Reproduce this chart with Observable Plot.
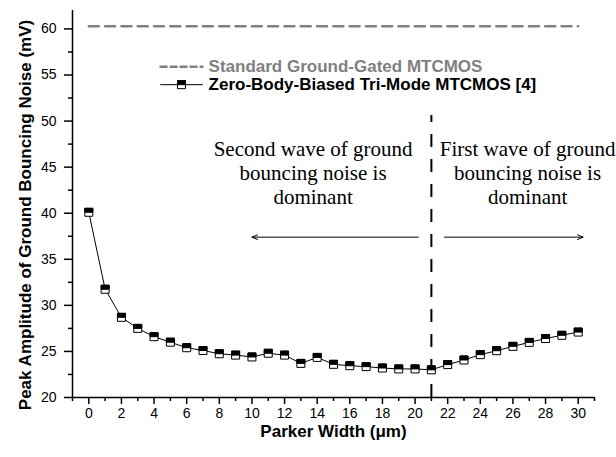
<!DOCTYPE html>
<html><head><meta charset="utf-8">
<script src="https://cdn.jsdelivr.net/npm/d3@7"></script>
<script src="https://cdn.jsdelivr.net/npm/@observablehq/plot@0.6"></script>
<style>
body{margin:0;background:#fff;}
#chart{width:616px;height:457px;}
</style></head><body><div id="chart"></div>
<script>
// ---- data ----
const parkerWidth = [0,1,2,3,4,5,6,7,8,9,10,11,12,13,14,15,16,17,18,19,20,21,22,23,24,25,26,27,28,29,30];
const noiseTriMode = [40.1,31.75,28.7,27.5,26.6,26.0,25.4,25.1,24.75,24.6,24.4,24.8,24.6,23.7,24.35,23.6,23.45,23.35,23.2,23.1,23.1,23.0,23.57,24.07,24.65,25.08,25.55,25.98,26.4,26.75,27.1];
const standardWidth = [0, 30];
const noiseStandard = [60.3, 60.3];
const boundaryWidth = [21];
const boundaryTop = 50.6;

const xMajorTicks = [0,2,4,6,8,10,12,14,16,18,20,22,24,26,28,30];
const xMinorTicks = [-1,1,3,5,7,9,11,13,15,17,19,21,23,25,27,29,31];
const yMajorTicks = [20,25,30,35,40,45,50,55,60];
const yMinorTicks = [22.5,27.5,32.5,37.5,42.5,47.5,52.5,57.5];

const seriesNames = ["Standard Ground-Gated MTCMOS", "Zero-Body-Biased Tri-Mode MTCMOS [4]"];
const legendX = [4.4, 6.97];     // sample line start/end (x units)
const legendMarkX = 5.68;
const legendTextX = 7.34;
const legendY = [55.9, 53.95];

const xTitle = "Parker Width (\u03bcm)";
const yTitle = "Peak Amplitude of Ground Bouncing Noise (mV)";

const noteTexts = ["Second wave of ground\nbouncing noise is\ndominant", "First wave of ground\nbouncing noise is\ndominant"];
const noteX = [13.75, 26.9];
const noteY = [44.4, 44.4];
const arrowX1 = [20.2, 21.8];
const arrowX2 = [10.0, 30.3];
const arrowY = [37.4, 37.4];

// ---- build ----
const tri = parkerWidth.map((x, i) => ({x, y: noiseTriMode[i]}));
const std = standardWidth.map((x, i) => ({x, y: noiseStandard[i]}));
const notes = noteTexts.map((t, i) => ({t, x: noteX[i], y: noteY[i]}));
const arrows = arrowX1.map((x1, i) => ({x1, x2: arrowX2[i], y: arrowY[i]}));
const halfTop = {draw(ctx, size) { const w = Math.sqrt(size); ctx.rect(-w/2, -w/2, w, w/2); }};
const sans = "'Liberation Sans', Arial, sans-serif";
const legStd = legendX.map(x => ({x, y: legendY[0]}));
const legTri = legendX.map(x => ({x, y: legendY[1]}));
const legMark = [{x: legendMarkX, y: legendY[1]}];
const legText = seriesNames.map((t, i) => ({t, x: legendTextX, y: legendY[i], c: i === 0 ? "#808080" : "#000"}));

const chart = Plot.plot({
  width: 616, height: 457,
  marginLeft: 72, marginRight: 22, marginTop: 10, marginBottom: 60,
  x: {domain: [-1, 31]},
  y: {domain: [20, 62]},
  style: {fontFamily: sans, fontSize: "14px", color: "#000", background: "#fff", overflow: "visible"},
  marks: [
    Plot.axisX({ticks: xMajorTicks, tickSize: 7, tickPadding: 4, strokeWidth: 1.5, tickFormat: d => String(d), label: null, fontSize: 14}),
    Plot.axisX({ticks: xMinorTicks, tickSize: 4, strokeWidth: 1.5, tickFormat: () => "", label: null}),
    Plot.axisY({ticks: yMajorTicks, tickSize: 8, tickPadding: 8, strokeWidth: 1.5, tickFormat: d => String(d), label: null, fontSize: 14}),
    Plot.axisY({ticks: yMinorTicks, tickSize: 4, strokeWidth: 1.5, tickFormat: () => "", label: null}),
    Plot.ruleY([20], {stroke: "#000", strokeWidth: 1.5}),
    Plot.ruleX([-1], {stroke: "#000", strokeWidth: 1.5}),
    Plot.text([xTitle], {frameAnchor: "bottom", dy: 34, text: d => d, textAnchor: "middle", lineAnchor: "middle", fontWeight: "bold", fontSize: 17, fontFamily: sans}),
    Plot.text([yTitle], {frameAnchor: "left", rotate: -90, dx: -47, dy: 11, text: d => d, textAnchor: "middle", lineAnchor: "middle", fontWeight: "bold", fontSize: 17, fontFamily: sans}),
    // reference lines
    Plot.line(std, {x: "x", y: "y", stroke: "#808080", strokeWidth: 2.5, strokeDasharray: "10,6.3"}),
    Plot.ruleX(boundaryWidth, {y1: 20, y2: boundaryTop, stroke: "#000", strokeWidth: 2, strokeDasharray: "13,12"}),
    // data
    Plot.line(tri, {x: "x", y: "y", stroke: "#000", strokeWidth: 1}),
    Plot.dot(tri, {x: "x", y: "y", symbol: "square", r: 4.5, fill: "#fff", stroke: "#000", strokeWidth: 1}),
    Plot.dot(tri, {x: "x", y: "y", symbol: halfTop, r: 4.5, fill: "#000", stroke: "#000", strokeWidth: 1}),
    // annotations
    Plot.text(notes, {x: "x", y: "y", text: "t", fontFamily: "'Liberation Serif', 'Times New Roman', serif", fontSize: 21, lineHeight: 1.14, textAnchor: "middle", fill: "#000"}),
    Plot.arrow(arrows, {x1: "x1", x2: "x2", y1: "y", y2: "y", stroke: "#000", strokeWidth: 1, headLength: 9, headAngle: 45}),
    // legend
    Plot.line(legStd, {x: "x", y: "y", stroke: "#808080", strokeWidth: 2.5, strokeDasharray: "6,4"}),
    Plot.line(legTri, {x: "x", y: "y", stroke: "#000", strokeWidth: 1}),
    Plot.dot(legMark, {x: "x", y: "y", symbol: "square", r: 4.5, fill: "#fff", stroke: "#000", strokeWidth: 1}),
    Plot.dot(legMark, {x: "x", y: "y", symbol: halfTop, r: 4.5, fill: "#000", stroke: "#000", strokeWidth: 1}),
    Plot.text(legText, {x: "x", y: "y", text: "t", fill: "c", textAnchor: "start", fontWeight: "bold", fontSize: 17, fontFamily: sans})
  ]
});
document.getElementById("chart").appendChild(chart);
</script>
</body></html>
